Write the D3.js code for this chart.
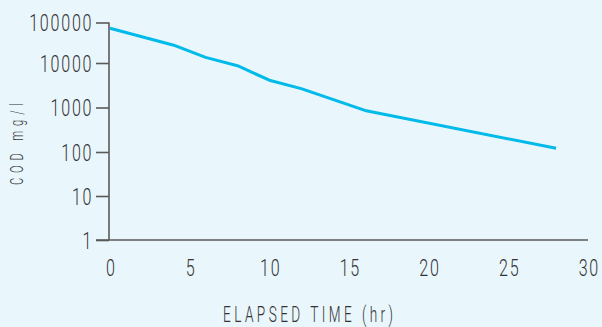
<!DOCTYPE html>
<html><head><meta charset="utf-8">
<script src="https://cdn.jsdelivr.net/npm/d3@7"></script>
<style>
html,body{margin:0;padding:0;background:#e9f6fc;}
svg{display:block;}
text{font-family:Roboto,"Open Sans",sans-serif;font-weight:300;fill:#333;}
</style></head>
<body>
<svg id="c" width="602" height="327"></svg>
<script>
const hours = [0, 4, 6, 8, 10, 12, 16, 28];
const cod = [72000, 27500, 13800, 8700, 4100, 2650, 860, 121];
const xTicks = [0, 5, 10, 15, 20, 25, 30];
const yTicks = [1, 10, 100, 1000, 10000, 100000];
const yTickLabels = ["1", "10", "100", "1000", "10000", "100000"];
const xTitle = "ELAPSED TIME (hr)";
const yTitle = "COD mg/l";

const SX = 0.70; // horizontal condensing of the tick type
const ST = 0.62; // condensing of the title type
const svg = d3.select("#c");
const x = d3.scaleLinear().domain([0, 30]).range([110, 588]);
// log scale with piecewise decades matching the reference spacing
const y = d3.scaleLog().domain(yTicks).range([240, 196, 152, 107.5, 63, 22.5]);

const axisColor = "#5a5a5a";

// y axis
const ya = svg.append("g").attr("transform", "translate(109,0)")
  .call(d3.axisLeft(y).tickValues(yTicks).tickFormat((d, i) => yTickLabels[i]).tickSize(13));
ya.select(".domain").attr("stroke", axisColor).attr("stroke-width", 1.6).attr("d", `M0,${y(100000)}V${y(1)}`);
ya.selectAll(".tick line").attr("stroke", axisColor).attr("stroke-width", 1.6);
ya.selectAll(".tick text")
  .attr("font-family", null).attr("font-size", 23).attr("letter-spacing", 2.5)
  .attr("x", -17.5 / SX).attr("dx", "2.5px").attr("dy", "0.36em")
  .attr("transform", `scale(${SX},1)`).style("fill", "#333");

// x axis
const xa = svg.append("g").attr("transform", "translate(0,240)")
  .call(d3.axisBottom(x).tickValues(xTicks).tickSize(0));
xa.select(".domain").attr("stroke", axisColor).attr("stroke-width", 1.6).attr("d", `M96,0H${x(30)}`);
xa.selectAll(".tick text")
  .attr("font-family", null).attr("font-size", 23).attr("letter-spacing", 2.5)
  .attr("y", 36.5).attr("dy", 0).attr("dx", "1.2px")
  .attr("transform", `scale(${SX},1)`).style("fill", "#333");

// line
const line = d3.line().x((d, i) => x(hours[i])).y(d => y(d));
svg.append("path").datum(cod).attr("d", line)
  .attr("fill", "none").attr("stroke", "#00bbe9").attr("stroke-width", 3).attr("stroke-linejoin", "round");

// titles
svg.append("g").attr("transform", `translate(223,322) scale(${ST},1)`)
  .append("text").attr("x", 0).attr("y", 0)
  .attr("font-size", 22).attr("textLength", 170 / ST).attr("lengthAdjust", "spacing").text(xTitle);
svg.append("g").attr("transform", `translate(23,185) rotate(-90) scale(${ST},1)`)
  .append("text").attr("x", 0).attr("y", 0)
  .attr("font-size", 18).attr("textLength", 82 / ST).attr("lengthAdjust", "spacing").text(yTitle);
</script>
</body></html>
